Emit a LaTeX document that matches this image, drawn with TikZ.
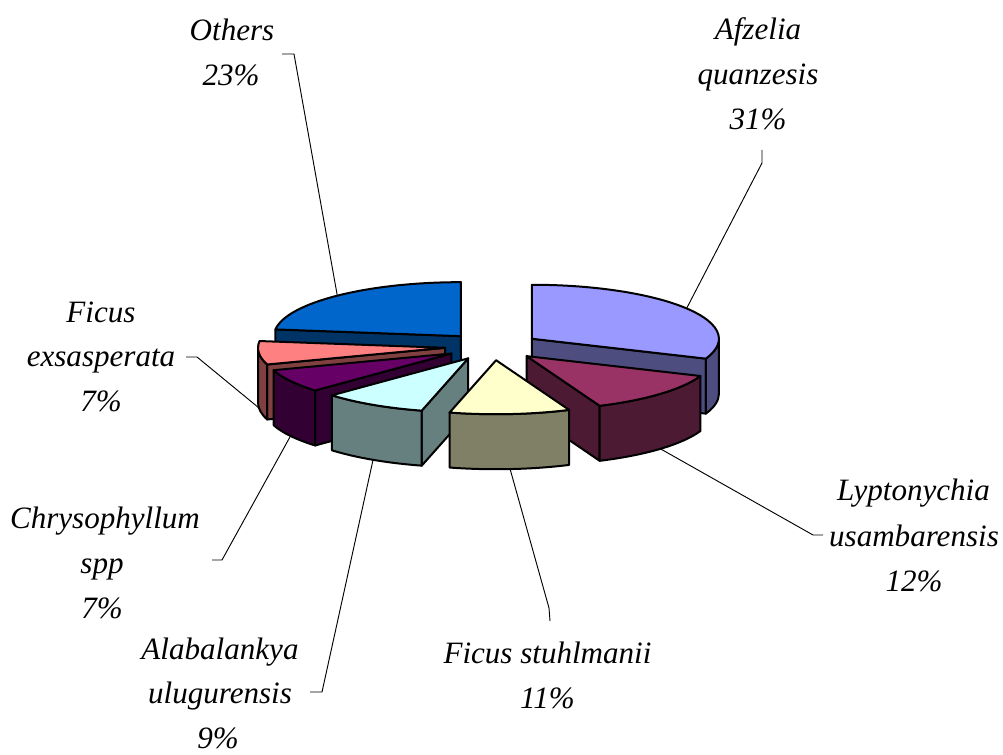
\documentclass[tikz,border=0pt]{standalone}
\usepackage{fontspec}
\setmainfont{Liberation Serif}
\usetikzlibrary{calc}

% slice colours: top faces and their darker sides
\definecolor{afTop}{HTML}{9999FF}\definecolor{afSide}{HTML}{4D4D80}
\definecolor{lyTop}{HTML}{993366}\definecolor{lySide}{HTML}{4D1A33}
\definecolor{fsTop}{HTML}{FFFFCC}\definecolor{fsSide}{HTML}{808066}
\definecolor{alTop}{HTML}{CCFFFF}\definecolor{alSide}{HTML}{668080}
\definecolor{chTop}{HTML}{660066}\definecolor{chSide}{HTML}{330033}
\definecolor{feTop}{HTML}{FF8080}\definecolor{feSide}{HTML}{804040}
\definecolor{otTop}{HTML}{0066CC}\definecolor{otSide}{HTML}{003366}

% pie geometry: ellipse radii, slice height, explosion factor
\def\rx{187}
\def\ry{54}
\def\th{55}
\def\ex{0.255}

% apex of an exploded slice, moved out along its middle angle
\newcommand\apex[2]{\coordinate (#1) at ($(C)+({\ex*\rx*cos(#2)},{\ex*\ry*sin(#2)})$);}
% top face of a slice: apex, from angle, to angle, colour
\newcommand\topface[4]{%
  \draw[slicepen, fill=#4] (#1) -- ++({\rx*cos(#2)},{\ry*sin(#2)})
    arc[start angle=#2, end angle=#3, x radius=\rx, y radius=\ry] -- cycle;}
% radial cut face: apex, angle, colour
\newcommand\cutface[3]{%
  \draw[slicepen, fill=#3] (#1) -- ++({\rx*cos(#2)},{\ry*sin(#2)})
    -- ++(0,-\th) -- ($(#1)+(0,-\th)$) -- cycle;}
% outer curved side: apex, from angle, to angle, colour
\newcommand\rimface[4]{%
  \draw[slicepen, fill=#4] ($(#1)+({\rx*cos(#2)},{\ry*sin(#2)})$)
    arc[start angle=#2, end angle=#3, x radius=\rx, y radius=\ry]
    -- ++(0,-\th)
    arc[start angle=#3, end angle=#2, x radius=\rx, y radius=\ry] -- cycle;}

\tikzset{
  slicepen/.style={draw=black, line width=1.5pt, line join=round},
  leader/.style={draw=black, line width=0.7pt},
  lbl/.style={font=\fontsize{23.3}{28}\selectfont\itshape, inner sep=0pt, anchor=base}
}

\begin{document}
\begin{tikzpicture}[x=0.75pt, y=0.75pt]
\useasboundingbox[fill=white] (0,0) rectangle (1003,754);

\coordinate (C) at (492.5,407.5);

% slice apexes (middle angles)
\apex{otT}{131.4}
\apex{afT}{34.2}
\apex{feT}{-174.6}
\apex{chT}{-149.4}
\apex{alT}{-120.6}
\apex{lyT}{-44.3}
\apex{fsT}{-85.7}

% points where the leader lines meet the slices
\coordinate (otMid) at ($(otT)+({\rx*cos(131.4)},{\ry*sin(131.4)})$);
\coordinate (afMid) at ($(afT)+({\rx*cos(34.2)},{\ry*sin(34.2)})$);
\coordinate (lyMid) at ($(lyT)+({\rx*cos(-44.3)},{\ry*sin(-44.3)-\th})$);
\coordinate (fsMid) at ($(fsT)+({\rx*cos(-85.7)},{\ry*sin(-85.7)-\th})$);
\coordinate (alMid) at ($(alT)+({\rx*cos(-120.6)},{\ry*sin(-120.6)-\th})$);
\coordinate (chMid) at ($(chT)+({\rx*cos(-149.4)},{\ry*sin(-149.4)-\th})$);
\coordinate (feMid) at ($(feT)+({\rx*cos(-174.6)},{\ry*sin(-174.6)-\th})$);

% labels
\node[lbl] (otA) at (232,713) {Others};
\node[lbl] (otB) at (231,668) {23\%};
\node[lbl] (afA) at (758,714) {Afzelia};
\node[lbl] (afB) at (758,669) {quanzesis};
\node[lbl] (afC) at (758,624) {31\%};
\node[lbl] (lyA) at (913.5,253) {Lyptonychia};
\node[lbl] (lyB) at (914,208) {usambarensis};
\node[lbl] (lyC) at (914,163) {12\%};
\node[lbl] (fsA) at (547.5,91) {Ficus stuhlmanii};
\node[lbl] (fsB) at (547.5,46) {11\%};
\node[lbl] (alA) at (220,95) {Alabalankya};
\node[lbl] (alB) at (220,51) {ulugurensis};
\node[lbl] (alC) at (218,6) {9\%};
\node[lbl] (chA) at (105,226) {Chrysophyllum};
\node[lbl] (chB) at (102,181) {spp};
\node[lbl] (chC) at (102,136) {7\%};
\node[lbl] (feA) at (101,431) {Ficus};
\node[lbl] (feB) at (101,387) {exsasperata};
\node[lbl] (feC) at (101,342) {7\%};

% leader line ends beside the labels
\coordinate (otTick) at (282,700);   \coordinate (otBend) at (294,700);
\coordinate (afTick) at (762,604);   \coordinate (afBend) at (762,591);
\coordinate (lyBend) at (813,219);   \coordinate (lyTick) at (823,219);
\coordinate (fsBend) at (549,146);   \coordinate (fsTick) at (550,133);
\coordinate (alBend) at (322,62);    \coordinate (alTick) at (310,62);
\coordinate (chBend) at (222,194);   \coordinate (chTick) at (212,194);
\coordinate (feBend) at (197,397);   \coordinate (feTick) at (186,397);

\draw[leader] (otTick) -- (otBend) -- (otMid);
\draw[leader] (afTick) -- (afBend) -- (afMid);
\draw[leader] (lyMid) -- (lyBend) -- (lyTick);
\draw[leader] (fsMid) -- (fsBend) -- (fsTick);
\draw[leader] (alMid) -- (alBend) -- (alTick);
\draw[leader] (chMid) -- (chBend) -- (chTick);
\draw[leader] (feMid) -- (feBend) -- (feTick);

% slices, back to front
% Others
\cutface{otT}{172.8}{otSide}
\topface{otT}{90}{172.8}{otTop}
% Afzelia quanzesis
\cutface{afT}{-21.6}{afSide}
\rimface{afT}{-21.6}{0}{afSide}
\topface{afT}{-21.6}{90}{afTop}
% Ficus exsasperata
\cutface{feT}{-162}{feSide}
\rimface{feT}{-180}{-162}{feSide}
\topface{feT}{-187.2}{-162}{feTop}
% Chrysophyllum spp
\cutface{chT}{-136.8}{chSide}
\rimface{chT}{-162}{-136.8}{chSide}
\topface{chT}{-162}{-136.8}{chTop}
% Alabalankya ulugurensis
\cutface{alT}{-104.4}{alSide}
\rimface{alT}{-136.8}{-104.4}{alSide}
\topface{alT}{-136.8}{-104.4}{alTop}
% Lyptonychia usambarensis
\cutface{lyT}{-67}{lySide}
\rimface{lyT}{-67}{-21.6}{lySide}
\topface{lyT}{-67}{-21.6}{lyTop}
% Ficus stuhlmanii
\rimface{fsT}{-104.4}{-67}{fsSide}
\topface{fsT}{-104.4}{-67}{fsTop}
\end{tikzpicture}
\end{document}
